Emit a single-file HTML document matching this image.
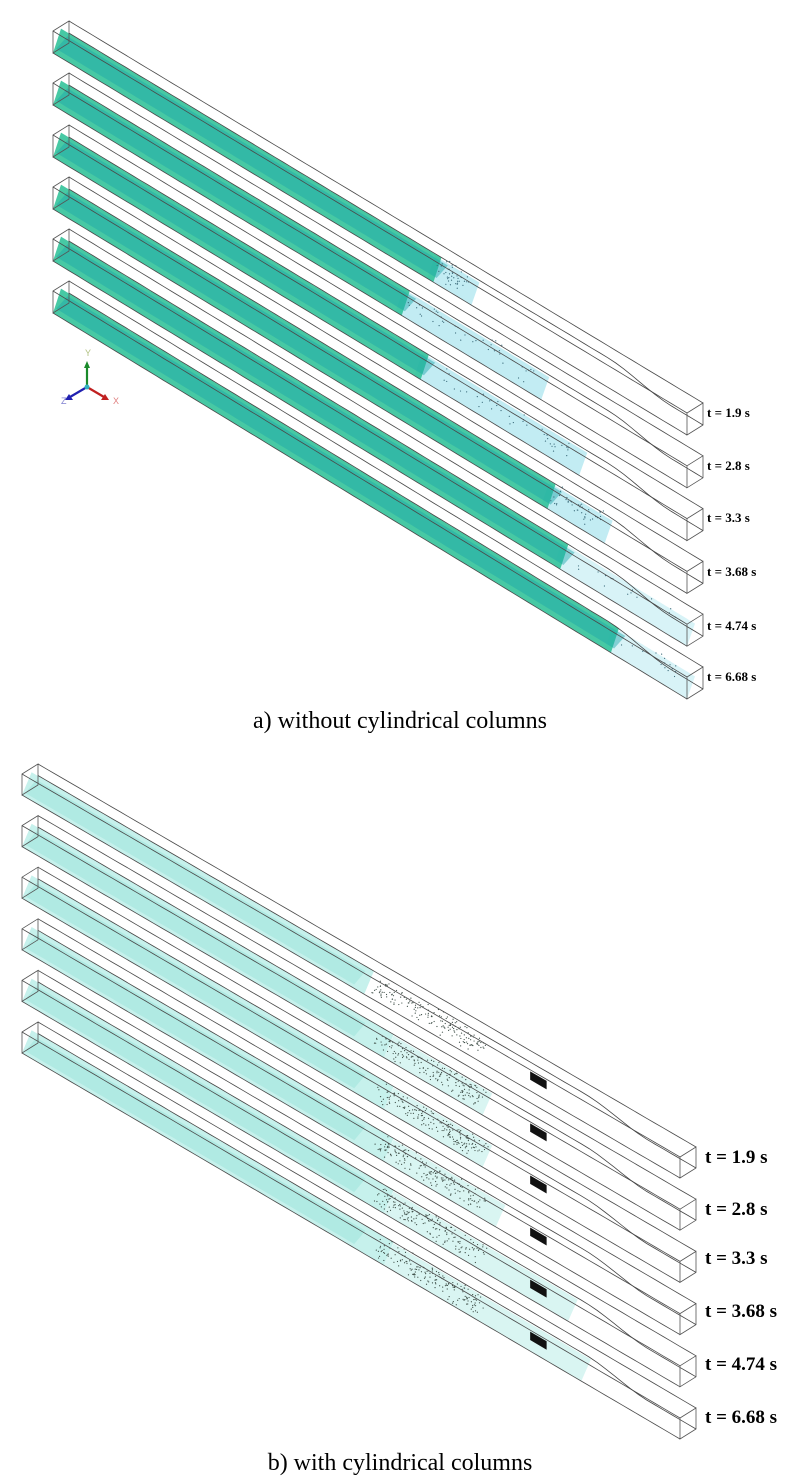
<!DOCTYPE html>
<html><head><meta charset="utf-8"><style>
html,body{margin:0;padding:0;background:#fff}
svg{display:block}
</style></head><body>
<svg id="s" width="799" height="1482" viewBox="0 0 799 1482" xmlns="http://www.w3.org/2000/svg">
<rect width="799" height="1482" fill="#fff"/>
<g id="g"></g>
<g font-family="Liberation Serif, serif" fill="#000">
<text x="400" y="728" font-size="24" text-anchor="middle">a) without cylindrical columns</text>
<text x="400" y="1470" font-size="24" text-anchor="middle">b) with cylindrical columns</text>
</g>
<g font-family="Liberation Serif, serif" font-weight="bold" font-size="13">
<text x="707" y="417">t = 1.9 s</text>
<text x="707" y="470">t = 2.8 s</text>
<text x="707" y="522">t = 3.3 s</text>
<text x="707" y="576">t = 3.68 s</text>
<text x="707" y="630">t = 4.74 s</text>
<text x="707" y="681">t = 6.68 s</text>
</g>
<g font-family="Liberation Serif, serif" font-weight="bold" font-size="19">
<text x="705" y="1163">t = 1.9 s</text>
<text x="705" y="1215">t = 2.8 s</text>
<text x="705" y="1264">t = 3.3 s</text>
<text x="705" y="1317">t = 3.68 s</text>
<text x="705" y="1370">t = 4.74 s</text>
<text x="705" y="1423">t = 6.68 s</text>
</g>
<g stroke-width="2.2" fill="none">
<line x1="87" y1="387" x2="87" y2="366" stroke="#1a8a2a"/>
<polygon points="84,368 90,368 87,361" fill="#1a8a2a" stroke="none"/>
<line x1="87" y1="387" x2="104" y2="397" stroke="#c02020"/>
<polygon points="101,400 105,394 109,400" fill="#c02020" stroke="none"/>
<line x1="87" y1="387" x2="70" y2="397" stroke="#2020b0"/>
<polygon points="73,400 69,394 65,400" fill="#2020b0" stroke="none"/>
<circle cx="87" cy="387" r="2.5" fill="#30b0c0" stroke="none"/>
</g>
<g font-family="Liberation Sans, sans-serif" font-size="9">
<text x="85" y="356" fill="#b0c080">Y</text>
<text x="113" y="404" fill="#e08080">X</text>
<text x="61" y="404" fill="#8080d0">Z</text>
</g>
</svg>
<script>
var g=document.getElementById('g');
var NS='http://www.w3.org/2000/svg';
function el(t,a){var e=document.createElementNS(NS,t);for(var k in a)e.setAttribute(k,a[k]);g.appendChild(e);return e;}
function sm(x){return x<0?0:x>1?1:x*x*(3-2*x);}
function mk(o,end,W,H,s1,s2){
  var L=[end[0]-o[0],end[1]-o[1]];
  var f=function(s,w,h){return [o[0]+s*L[0]+w*W[0],o[1]+s*L[1]+w*W[1]+h*H[1]];};
  f.s1=s1;f.s2=s2;return f;
}
function pts(P,a,b,w,hf){var p=[];for(var i=0;i<=80;i++){var s=a+(b-a)*i/80;var q=P(s,w,typeof hf=='function'?hf(s):hf);p.push(q[0].toFixed(1)+','+q[1].toFixed(1));}return p;}
function line(P,w,h,a,b,c,wd){el('polyline',{points:pts(P,a,b,w,h).join(' '),fill:'none',stroke:c,'stroke-width':wd});}
function band(P,a,b,w1,h1,w2,h2,fill,op){var p=pts(P,a,b,w1,h1).concat(pts(P,a,b,w2,h2).reverse());
 el('polygon',{points:p.join(' '),fill:fill,'fill-opacity':op});}
function face(P,s){var c=[P(s,0,0),P(s,1,0),P(s,1,1),P(s,0,1)];
 el('polygon',{points:c.map(function(q){return q.join(',')}).join(' '),fill:'none',stroke:'#555','stroke-width':0.8});}
var seed=7;function rnd(){seed=(seed*16807)%2147483647;return seed/2147483647;}
function dots(P,a,b,n,col,r,h0){for(var i=0;i<n;i++){var q=P(a+(b-a)*rnd(),rnd()*0.9,(h0||0.3)+rnd()*0.5);el('circle',{cx:q[0],cy:q[1],r:r,fill:col});}}
function outline(P){line(P,1,0,0,1,'#4a4a4a',0.8);line(P,0,0,0,1,'#4a4a4a',0.8);line(P,0,1,0,1,'#4a4a4a',0.8);
 var s1=P.s1,s2=P.s2;line(P,1,function(s){return 0.55+0.45*sm((s-s1)/(s2-s1));},0,1,'#444',0.8);face(P,0);face(P,1);}
// top panel
var gEnd=[0.60,0.55,0.58,0.78,0.80,0.88];
var lEnd=[0.66,0.77,0.83,0.87,1.0,1.0];
for(var k=0;k<6;k++){
 var P=mk([53,31+52*k],[687,413+52.8*k],[16,-10],[0,22],0.85,0.95);
 band(P,gEnd[k]-0.01,lEnd[k],0.5,0.2,0,1,'#a8e4ee',k>=4?0.45:0.7);
 band(P,0,gEnd[k],0.5,0.12,0,1,'#33c39a',0.9);
 band(P,0,gEnd[k],0.9,0.65,0.2,0.9,'#1aa7a8',0.45);
 dots(P,gEnd[k],lEnd[k]-0.02,k<4?40:15,'#3a6a7a',0.6);
 outline(P);
}
// bottom panel
var fEnd=[0.52,0.70,0.70,0.72,0.83,0.85];
for(var k=0;k<6;k++){
 var P=mk([22,774+51.6*k],[680,1157+52.2*k],[16,-10],[0,21],0.83,0.93);
 band(P,0,Math.min(fEnd[k],0.55),0.6,0.2,0,1,'#a0e8df',0.6);
 if(fEnd[k]>0.55)band(P,0.55,fEnd[k],0.6,0.25,0,1,'#c0efe9',0.6);
 band(P,0,Math.min(fEnd[k],0.5),0.9,0.7,0.2,1,'#6fd6c8',0.25);
 dots(P,0.53,0.69,160,'#3f4f48',0.6,0.4);
 outline(P);
 var c=[P(0.765,0.3,0.35),P(0.79,0.3,0.35),P(0.79,0.3,0.75),P(0.765,0.3,0.75)];
 el('polygon',{points:c.map(function(q){return q.join(',')}).join(' '),fill:'#111'});
}
</script>
</body></html>
